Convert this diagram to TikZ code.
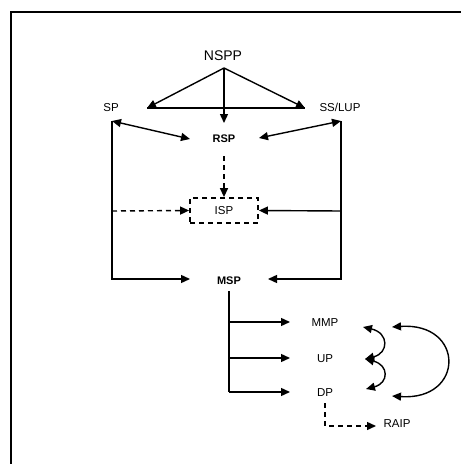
\documentclass[tikz,border=0pt]{standalone}
\usepackage{fontspec}
\setmainfont{Liberation Sans}
\usetikzlibrary{arrows.meta}
\tikzset{
  lbl/.style={font=\fontsize{11.5}{13}\selectfont, inner sep=0pt, anchor=base},
  blbl/.style={font=\fontsize{11}{13}\selectfont\bfseries, inner sep=0pt, anchor=base},
  big/.style={font=\fontsize{14}{16}\selectfont, inner sep=0pt, anchor=base},
  conn/.style={line width=1.4pt, -{Triangle[length=9pt,width=8pt]}},
  dconn/.style={conn, dash pattern=on 5pt off 4pt},
  plain/.style={line width=1.4pt},
  both/.style={line width=1.4pt, {Triangle[length=9pt,width=8pt]}-{Triangle[length=9pt,width=8pt]}},
  dbox/.style={draw, line width=1.8pt, dash pattern=on 5pt off 4pt, minimum width=68pt, minimum height=25pt, inner sep=0pt, font=\fontsize{11.5}{13}\selectfont}
}
\begin{document}
\begin{tikzpicture}[x=1pt,y=-1pt]
\useasboundingbox (0,0) rectangle (461,464);
\fill[white] (0,0) rectangle (461,464);
% frame
\draw[line width=2pt] (10.5,464) -- (10.5,11.5) -- (461,11.5);

% nodes
\node[big] (nspp) at (223,60) {NSPP};
\node[lbl] (sp) at (111,111.5) {SP};
\node[lbl] (ss) at (340,111.5) {SS/LUP};
\node[blbl] (rsp) at (224,142) {RSP};
\node[dbox] (isp) at (224,210.5) {ISP};
\node[blbl] (msp) at (229,284) {MSP};
\node[lbl] (mmp) at (325,326.5) {MMP};
\node[lbl] (up) at (325,362) {UP};
\node[lbl] (dp) at (325,396) {DP};
\node[lbl] (raip) at (397,427) {RAIP};

% coordinates
\coordinate (nb) at (224,68);
\coordinate (spin) at (147,108);
\coordinate (ssin) at (305,108);
\coordinate (rtop) at (224,123);
\coordinate (spb) at (112,121);
\coordinate (ssb) at (341,121);
\coordinate (rl) at (190,139);
\coordinate (rr) at (259,138);
\coordinate (rbot) at (224,156);
\coordinate (lcor) at (112,279);
\coordinate (rcor) at (341,279);
\coordinate (ml) at (190,279);
\coordinate (mr) at (268,279);
\coordinate (lmid) at (112,211);
\coordinate (rmid) at (341,211);
\coordinate (mt) at (229,291);
\coordinate (b1) at (229,322);
\coordinate (b2) at (229,358);
\coordinate (b3) at (229,392);
\coordinate (t1) at (290,322);
\coordinate (t2) at (290,358);
\coordinate (t3) at (290,392);
\coordinate (c1) at (363,327);
\coordinate (c2) at (365,359);
\coordinate (c3) at (366,389);
\coordinate (d1) at (392,327);
\coordinate (d2) at (392,396);
\coordinate (dpb) at (325,403);
\coordinate (dpc) at (325,426);
\coordinate (ra) at (376,426);

% NSPP arrows
\draw[conn] (nb) -- (spin);
\draw[conn] (nb) -- (ssin);
\draw[plain] (spin) -- (ssin);
\draw[conn] (nb) -- (rtop);

% SP / SS to RSP
\draw[both] (spb) -- (rl);
\draw[both] (ssb) -- (rr);

% side lines to MSP
\draw[conn] (spb) -- (lcor) -- (ml);
\draw[conn] (ssb) -- (rcor) -- (mr);

% to ISP
\draw[dconn] (rbot) -- (isp.north);
\draw[dconn] (lmid) -- (isp.west);
\draw[conn] (rmid) -- (isp.east);

% MSP tree
\draw[plain] (mt) -- (b3);
\draw[conn] (b1) -- (t1);
\draw[conn] (b2) -- (t2);
\draw[conn] (b3) -- (t3);

% curved arrows
\draw[both] (c1) .. controls (389,333) and (389,353) .. (c2);
\draw[both] (c2) .. controls (389,365) and (389,383) .. (c3);
\draw[both] (d1) .. controls (465,322) and (465,401) .. (d2);

% DP to RAIP
\draw[dconn] (dpb) -- (dpc) -- (ra);
\end{tikzpicture}
\end{document}
